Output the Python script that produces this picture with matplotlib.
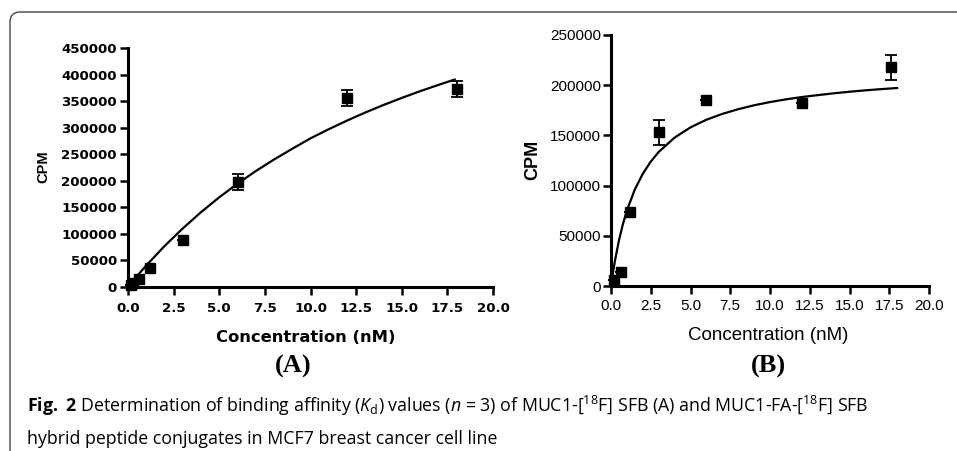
import matplotlib
matplotlib.use("Agg")
import matplotlib.pyplot as plt
from matplotlib.patches import FancyBboxPatch
from matplotlib.transforms import IdentityTransform

# ---------------- data ----------------
conc_a = [0.15, 0.3, 0.6, 1.2, 3.0, 6.0, 12.0, 18.0]
cpm_a = [3000, 8000, 15000, 36000, 88000, 198000, 356000, 372000]
err_a = [0, 0, 0, 0, 0, 15000, 15000, 15000]
fit_x_a = [0.0, 0.2, 0.5, 1, 2, 3, 4, 5, 6, 7, 8, 9, 10, 11, 12, 13, 14, 15, 16, 17, 17.9]
fit_y_a = [0, 8400, 20700, 40600, 77000, 110300, 140900, 168900, 194500, 218200,
           240000, 260300, 279900, 297100, 313300, 328500, 342700, 356000, 368600,
           380400, 390600]

conc_b = [0.2, 0.6, 1.2, 3.0, 6.0, 12.0, 17.6]
cpm_b = [6000, 13500, 74000, 153000, 185000, 182000, 218000]
err_b = [0, 0, 0, 12500, 0, 0, 12500]
fit_x_b = [0.0, 0.1, 0.25, 0.5, 0.75, 1, 1.5, 2, 2.5, 3, 4, 5, 6, 7, 8, 9, 10, 11,
           12, 13, 14, 15, 16, 17, 18]
fit_y_b = [0, 10900, 25300, 45400, 61700, 75200, 96200, 111800, 123900, 133500,
           147800, 158000, 165600, 171400, 176100, 180000, 183200, 185900, 188200,
           190100, 191900, 193500, 194900, 196100, 197200]

xticks = [0.0, 2.5, 5.0, 7.5, 10.0, 12.5, 15.0, 17.5, 20.0]
xtick_labels = ["0.0", "2.5", "5.0", "7.5", "10.0", "12.5", "15.0", "17.5", "20.0"]
yticks_a = [0, 50000, 100000, 150000, 200000, 250000, 300000, 350000, 400000, 450000]
yticks_b = [0, 50000, 100000, 150000, 200000, 250000]

W, H = 957, 451
fig = plt.figure(figsize=(W / 100, H / 100), dpi=100)
fig.patch.set_facecolor("white")

plt.rcParams['mathtext.fontset'] = 'custom'
plt.rcParams['mathtext.rm'] = 'Open Sans'
plt.rcParams['mathtext.it'] = 'Open Sans:italic'
plt.rcParams['mathtext.bf'] = 'Open Sans:bold'

# frame
frame = FancyBboxPatch((10, -30), 1000, H - 12 + 30,
                       boxstyle="round,pad=0,rounding_size=10",
                       transform=IdentityTransform(), facecolor="none",
                       edgecolor="#444444", linewidth=1.0)
fig.patches.append(frame)


def ax_rect(l, r, t, b):
    return [l / W, 1 - b / H, (r - l) / W, (b - t) / H]


def style_axes(ax, family, weight, size, pad_x, pad_y):
    for s in ["top", "right"]:
        ax.spines[s].set_visible(False)
    for s in ["left", "bottom"]:
        ax.spines[s].set_linewidth(2.2)
    ax.tick_params(direction="out", length=6, width=1.8, colors="black")
    ax.tick_params(axis="x", pad=pad_x)
    ax.tick_params(axis="y", pad=pad_y)
    for lab in ax.get_xticklabels() + ax.get_yticklabels():
        lab.set_family(family)
        lab.set_weight(weight)
        lab.set_fontsize(size)


# Panel A
axA = fig.add_axes(ax_rect(128, 493, 48, 287))
axA.set_xlim(0, 20)
axA.set_ylim(0, 450000)
axA.plot(fit_x_a, fit_y_a, color="black", lw=1.6, zorder=2)
axA.errorbar(conc_a, cpm_a, yerr=err_a, fmt="s", color="black", ms=6.5,
             capsize=4, elinewidth=1.3, capthick=1.3, zorder=3, clip_on=False)
axA.set_xticks(xticks)
axA.set_xticklabels(xtick_labels)
axA.set_yticks(yticks_a)
axA.set_yticklabels([str(v) for v in yticks_a])
style_axes(axA, "DejaVu Sans", "bold", 9.6, 5, 2)

# Panel B
axB = fig.add_axes(ax_rect(611, 929, 35, 286))
axB.set_xlim(0, 20)
axB.set_ylim(0, 250000)
axB.plot(fit_x_b, fit_y_b, color="black", lw=1.6, zorder=2)
axB.errorbar(conc_b, cpm_b, yerr=err_b, fmt="s", color="black", ms=6.5,
             capsize=4, elinewidth=1.3, capthick=1.3, zorder=3, clip_on=False)
axB.set_xticks(xticks)
axB.set_xticklabels(xtick_labels)
axB.set_yticks(yticks_b)
axB.set_yticklabels([str(v) for v in yticks_b])
style_axes(axB, "Liberation Sans", "normal", 11, 3, 1)


def ftext(x, y, s, **kw):
    fig.text(x / W, 1 - y / H, s, **kw)


ftext(306, 337, "Concentration (nM)", ha="center", va="center",
      family="DejaVu Sans", weight="bold", fontsize=11.8)
ftext(43, 167, "CPM", ha="center", va="center", rotation=90,
      family="Liberation Sans", weight="bold", fontsize=10.5)
ftext(768, 336, "Concentration (nM)", ha="center", va="center",
      family="Liberation Sans", fontsize=13.5)
ftext(533, 160, "CPM", ha="center", va="center", rotation=90,
      family="Liberation Sans", weight="bold", fontsize=13)

ftext(293, 366, "(A)", ha="center", va="center", family="Liberation Serif",
      weight="bold", fontsize=19)
ftext(768, 366, "(B)", ha="center", va="center", family="Liberation Serif",
      weight="bold", fontsize=19)

cap1 = (r"$\mathbf{Fig.\ 2}$ Determination of binding affinity ($\mathit{K}_\mathrm{d}$) "
        r"values ($\mathit{n}$ = 3) of MUC1-[$^{18}$F] SFB (A) and MUC1-FA-[$^{18}$F] SFB")
cap2 = "hybrid peptide conjugates in MCF7 breast cancer cell line"
ftext(27, 406, cap1, ha="left", va="center", family="Open Sans",
      fontsize=12.8)
ftext(27, 439, cap2, ha="left", va="center", family="Open Sans",
      fontsize=12.8)

fig.savefig("out.png", dpi=100)
